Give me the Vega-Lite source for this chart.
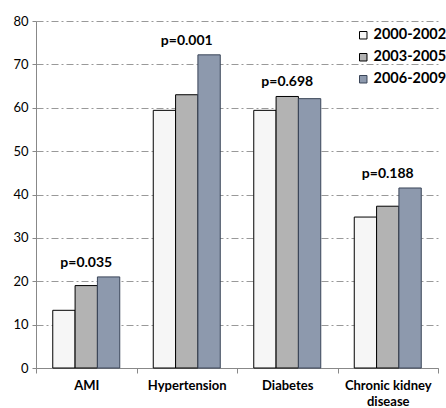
{
  "$schema": "https://vega.github.io/schema/vega-lite/v6.json",
  "width": 402,
  "height": 347,
  "autosize": {"type": "none"},
  "padding": {"left": 36, "top": 21, "right": 8, "bottom": 40},
  "background": "white",
  "config": {
    "font": "Lato",
    "view": {"stroke": null},
    "axis": {"labelFont": "Lato", "titleFont": "Lato"}
  },
  "data": {
    "values": [
      {"cat": "AMI", "period": "2000-2002", "value": 13.3, "p": "p=0.035"},
      {"cat": "AMI", "period": "2003-2005", "value": 19.0, "p": "p=0.035"},
      {"cat": "AMI", "period": "2006-2009", "value": 21.0, "p": "p=0.035"},
      {"cat": "Hypertension", "period": "2000-2002", "value": 59.4, "p": "p=0.001"},
      {"cat": "Hypertension", "period": "2003-2005", "value": 63.0, "p": "p=0.001"},
      {"cat": "Hypertension", "period": "2006-2009", "value": 72.2, "p": "p=0.001"},
      {"cat": "Diabetes", "period": "2000-2002", "value": 59.4, "p": "p=0.698"},
      {"cat": "Diabetes", "period": "2003-2005", "value": 62.6, "p": "p=0.698"},
      {"cat": "Diabetes", "period": "2006-2009", "value": 62.1, "p": "p=0.698"},
      {"cat": "Chronic kidney disease", "period": "2000-2002", "value": 34.8, "p": "p=0.188"},
      {"cat": "Chronic kidney disease", "period": "2003-2005", "value": 37.3, "p": "p=0.188"},
      {"cat": "Chronic kidney disease", "period": "2006-2009", "value": 41.5, "p": "p=0.188"}
    ]
  },
  "encoding": {
    "x": {
      "field": "cat", "type": "nominal", "sort": null, "title": null,
      "scale": {"paddingInner": 0, "paddingOuter": 0},
      "axis": {
        "labelAngle": 0, "labelFontSize": 13, "labelFontWeight": "bold", "labelColor": "#000",
        "domainColor": "#888", "tickColor": "#888", "tickSize": 5, "tickBand": "extent",
        "labelPadding": 6, "grid": false, "labelBaseline": "top",
        "labelExpr": "datum.label == 'Chronic kidney disease' ? ['Chronic kidney', 'disease'] : datum.label",
        "labelLineHeight": 16
      }
    }
  },
  "layer": [
    {
      "mark": {"type": "bar", "strokeWidth": 1},
      "encoding": {
        "xOffset": {"field": "period", "type": "nominal", "scale": {"paddingInner": 0, "paddingOuter": 0.75}},
        "y": {
          "field": "value", "type": "quantitative", "title": null,
          "scale": {"domain": [0, 80]},
          "axis": {
            "values": [0, 10, 20, 30, 40, 50, 60, 70, 80],
            "labelFontSize": 13, "labelColor": "#000", "labelPadding": 4,
            "domainColor": "#888", "tickColor": "#888", "tickSize": 4,
            "gridColor": "#999", "gridDash": [7, 3, 2, 3], "gridWidth": 1
          }
        },
        "fill": {
          "field": "period", "type": "nominal", "title": null,
          "scale": {"range": ["#f6f6f6", "#b3b3b3", "#8d99ad"]},
          "legend": {
            "orient": "none", "legendX": 320, "legendY": 7,
            "symbolType": "square", "symbolSize": 56, "symbolStrokeColor": "#000", "symbolStrokeWidth": 1,
            "labelFontSize": 14.5, "labelFontWeight": "bold", "labelColor": "#000", "labelLimit": 200,
            "rowPadding": 7, "labelOffset": 3, "padding": 0
          }
        },
        "stroke": {
          "field": "period", "type": "nominal", "legend": null,
          "scale": {"range": ["#000000", "#000000", "#3a4558"]}
        }
      }
    },
    {
      "transform": [{"aggregate": [{"op": "max", "field": "value", "as": "top"}], "groupby": ["cat", "p"]}],
      "mark": {"type": "text", "fontSize": 14, "fontWeight": "bold", "baseline": "bottom", "dy": -7, "color": "#000"},
      "encoding": {
        "y": {"field": "top", "type": "quantitative"},
        "text": {"field": "p"}
      }
    }
  ]
}
